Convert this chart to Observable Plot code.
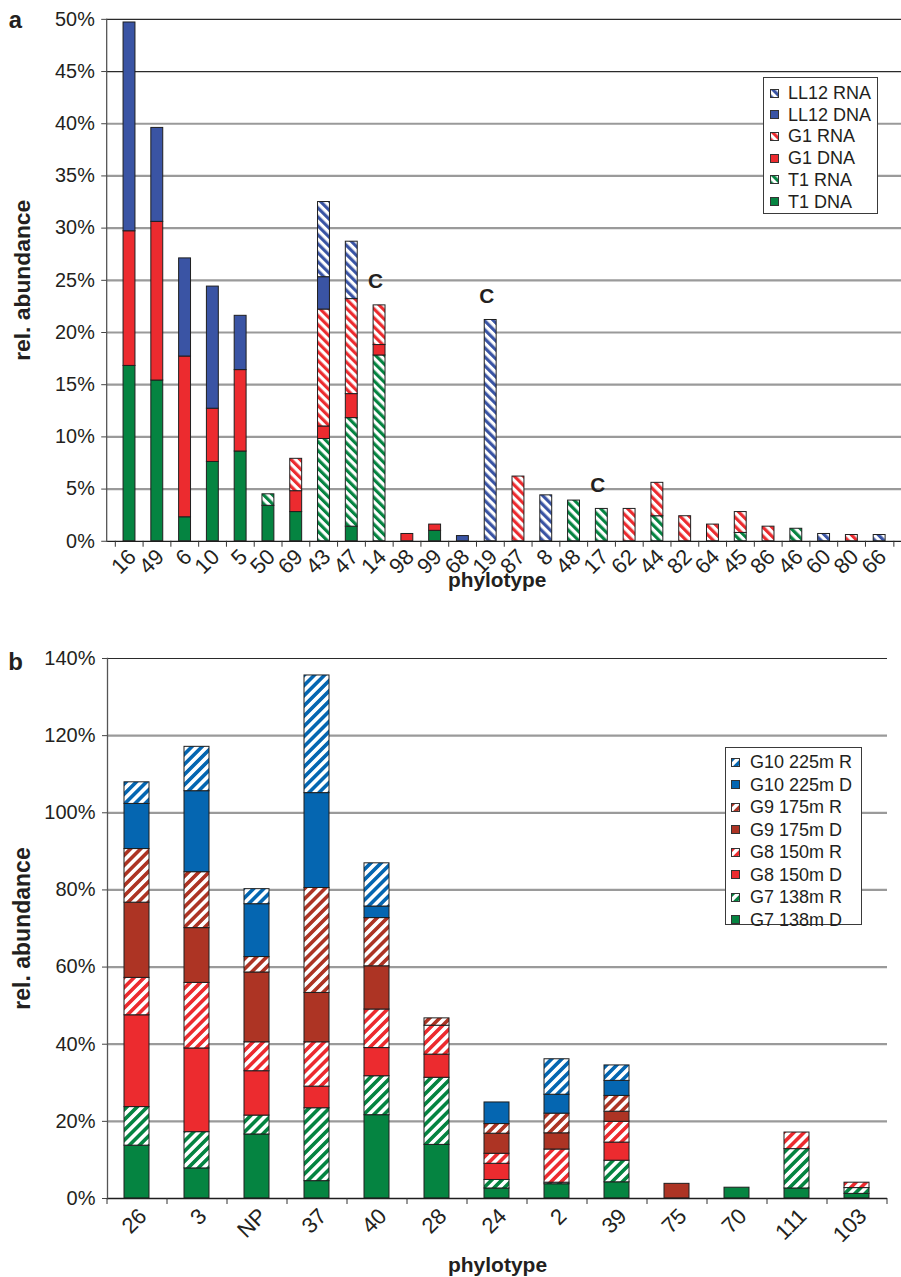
<!DOCTYPE html>
<html>
<head>
<meta charset="utf-8">
<script src="https://cdn.jsdelivr.net/npm/d3@7"></script>
<script src="https://cdn.jsdelivr.net/npm/@observablehq/plot@0.6"></script>
<style>
  body { margin: 0; background: #fff; width: 901px; height: 1277px; overflow: hidden; position: relative;
         font-family: "Liberation Sans", Arial, Helvetica, sans-serif; color: #231f20; }
  #panelA { position: absolute; left: 0; top: 0; width: 901px; height: 600px; overflow: hidden; }
  #panelB { position: absolute; left: 0; top: 600px; width: 901px; height: 677px; overflow: hidden; }
  .legend { position: absolute; background: #fff; border: 1px solid #3a3a3a; box-sizing: border-box; font-size: 18px; }
  .legend .row { position: absolute; display: flex; align-items: center; white-space: nowrap; line-height: 1; }
  .legend .row svg { display: block; }
</style>
</head>
<body>
<svg width="0" height="0" style="position:absolute">
  <defs id="patterns"></defs>
</svg>
<div id="panelA"></div>
<div id="panelB"></div>
<script>
// ---------- panel a: phylotypes across three stations ----------
const phylotypesA = ["16","49","6","10","5","50","69","43","47","14","98","99","68","19","87","8","48","17","62","44","82","64","45","86","46","60","80","66"];
const seriesA = ["T1 DNA", "T1 RNA", "G1 DNA", "G1 RNA", "LL12 DNA", "LL12 RNA"];
const t1DnaA   = [16.8,15.4,2.3,7.6,8.6,3.4,2.8,0,1.4,0,0,1.0,0,0,0,0,0,0,0,0,0,0,0,0,0,0,0,0];
const t1RnaA   = [0,0,0,0,0,1.1,0,9.8,10.4,17.8,0,0,0,0,0,0,3.9,3.1,0,2.4,0,0,0.8,0,1.2,0,0,0];
const g1DnaA   = [12.9,15.2,15.4,5.1,7.8,0,2.0,1.2,2.3,1.0,0.7,0.6,0,0,0,0,0,0,0,0,0,0,0,0,0,0,0,0];
const g1RnaA   = [0,0,0,0,0,0,3.1,11.2,9.1,3.8,0,0,0,0,6.2,0,0,0,3.1,3.2,2.4,1.6,2.0,1.4,0,0,0.6,0];
const ll12DnaA = [20.0,9.0,9.4,11.7,5.2,0,0,3.1,0,0,0,0,0.5,0,0,0,0,0,0,0,0,0,0,0,0,0,0,0];
const ll12RnaA = [0,0,0,0,0,0,0,7.2,5.5,0,0,0,0,21.2,0,4.4,0,0,0,0,0,0,0,0,0,0.7,0,0.6];
const valuesA = [t1DnaA, t1RnaA, g1DnaA, g1RnaA, ll12DnaA, ll12RnaA];
const flaggedA = ["14", "19", "17"];           // phylotypes marked "C"
const yTicksA = [0, 5, 10, 15, 20, 25, 30, 35, 40, 45, 50];

// ---------- panel b: phylotypes across four depths ----------
const phylotypesB = ["26","3","NP","37","40","28","24","2","39","75","70","111","103"];
const seriesB = ["G7 138m D", "G7 138m R", "G8 150m D", "G8 150m R", "G9 175m D", "G9 175m R", "G10 225m D", "G10 225m R"];
const g7DB  = [13.7, 7.8,16.6, 4.5,21.6,13.9,2.6,3.7,4.2,0,  2.8,2.6,1.2];
const g7RB  = [10.0, 9.4, 4.9,18.9,10.1,17.4,2.2,0.4,5.6,0,  0,  10.2,1.5];
const g8DB  = [23.8,21.7,11.5, 5.6, 7.3, 6.0,4.2,0,  4.7,0,  0,  0,  0];
const g8RB  = [ 9.7,17.0, 7.5,11.5,10.0, 7.5,2.6,8.6,5.4,0,  0,  4.3,1.4];
const g9DB  = [19.5,14.2,18.1,12.8,11.2, 0,  5.2,4.2,2.6,3.8,0,  0,  0];
const g9RB  = [13.9,14.5, 4.0,27.2,12.5, 1.9,2.5,5.1,4.1,0,  0,  0,  0];
const g10DB = [11.7,21.0,13.7,24.6, 3.0, 0,  5.6,4.9,3.9,0,  0,  0,  0];
const g10RB = [ 5.6,11.5, 3.9,30.5,11.2, 0,  0,  9.2,4.0,0,  0,  0,  0];
const valuesB = [g7DB, g7RB, g8DB, g8RB, g9DB, g9RB, g10DB, g10RB];
const yTicksB = [0, 20, 40, 60, 80, 100, 120, 140];

// ---------- hatch patterns ----------
const defs = d3.select("#patterns");
function hatch(id, color, angle, period) {
  const p = defs.append("pattern")
    .attr("id", id)
    .attr("patternUnits", "userSpaceOnUse")
    .attr("width", period).attr("height", period)
    .attr("patternTransform", `rotate(${angle})`);
  p.append("rect").attr("width", period).attr("height", period).attr("fill", "#fff");
  p.append("rect").attr("width", period * 0.5).attr("height", period).attr("fill", color);
}
const GREEN = "#058441", RED = "#ec2b2f", BLUE_A = "#3a54a4", BLUE_B = "#0566b1", BROWN = "#ad3424";
hatch("hA-green", GREEN, -45, 6.4);
hatch("hA-red", RED, -45, 6.4);
hatch("hA-blue", BLUE_A, -45, 6.4);
hatch("hB-green", GREEN, 45, 7.2);
hatch("hB-red", RED, 45, 7.2);
hatch("hB-brown", BROWN, 45, 7.2);
hatch("hB-blue", BLUE_B, 45, 7.2);

const fillsA = [GREEN, "url(#hA-green)", RED, "url(#hA-red)", BLUE_A, "url(#hA-blue)"];
const fillsB = [GREEN, "url(#hB-green)", RED, "url(#hB-red)", BROWN, "url(#hB-brown)", BLUE_B, "url(#hB-blue)"];

function rows(phylotypes, series, values) {
  const out = [];
  series.forEach((s, i) => phylotypes.forEach((p, j) => {
    if (values[i][j] > 0) out.push({phylotype: p, series: s, value: values[i][j]});
  }));
  return out;
}

const FONT = `"Liberation Sans", Arial, Helvetica, sans-serif`;

function panel({phylotypes, series, values, fills, yTicks, darkTicks, width, height,
                marginTop, marginBottom, marginRight, tag, tagDy, titleDx, titleDy,
                labelDx, labelPad, flagged}) {
  const data = rows(phylotypes, series, values);
  const step = (width - 107 - marginRight) / phylotypes.length;
  const yMax = yTicks[yTicks.length - 1];
  const totals = d3.rollup(data, v => d3.sum(v, d => d.value), d => d.phylotype);
  const gray = yTicks.filter(t => t > 0 && !darkTicks.includes(t));
  return Plot.plot({
    width, height, marginTop, marginBottom, marginLeft: 107, marginRight,
    style: {fontFamily: FONT, fontSize: "20px", color: "#231f20", background: "transparent"},
    x: {domain: phylotypes, paddingInner: 0.58, paddingOuter: 0.29},
    y: {domain: [0, yMax]},
    color: {domain: series, range: fills},
    marks: [
      Plot.ruleY(gray, {stroke: "#9a9a9a", strokeWidth: 2.2}),
      Plot.ruleY(darkTicks, {stroke: "#2a2a2a", strokeWidth: 1.2}),
      Plot.barY(data, {x: "phylotype", y: "value", fill: "series", order: series,
                       stroke: "#1e1e1e", strokeWidth: 1}),
      Plot.ruleY([0], {stroke: "#1e1e1e", strokeWidth: 1.3}),
      Plot.frame({anchor: "left", stroke: "#555", strokeWidth: 1.3}),
      Plot.axisY({ticks: yTicks, tickFormat: d => d + "%", tickSize: 5, tickPadding: 7,
                  stroke: "#444", label: null, fontSize: 20}),
      Plot.axisX({tickSize: 6, text: null, dx: -step / 2, stroke: "#333", label: null}),
      Plot.axisX([phylotypes[phylotypes.length - 1]], {tickSize: 6, text: null, dx: step / 2, stroke: "#333", label: null}),
      Plot.axisX({tickSize: 0, tickPadding: labelPad, tickRotate: -45, dx: labelDx, label: null, fontSize: 22}),
      Plot.text(flagged, {x: d => d, y: d => totals.get(d), text: () => "C", dy: -24, dx: -4,
                          fontWeight: "bold", fontSize: 21}),
      Plot.text(["rel. abundance"], {frameAnchor: "left", dx: -85, rotate: -90, textAnchor: "middle",
                                     lineAnchor: "middle", fontWeight: "bold", fontSize: 23}),
      Plot.text(["phylotype"], {frameAnchor: "bottom", dx: titleDx, dy: titleDy, textAnchor: "middle",
                                lineAnchor: "middle", fontWeight: "bold", fontSize: 21}),
      Plot.text([tag], {frameAnchor: "top-left", dx: -92, dy: tagDy, textAnchor: "middle",
                        lineAnchor: "middle", fontWeight: "bold", fontSize: 24})
    ]
  });
}

document.getElementById("panelA").append(panel({
  phylotypes: phylotypesA, series: seriesA, values: valuesA, fills: fillsA,
  yTicks: yTicksA, darkTicks: [45, 50], width: 908, height: 600,
  marginTop: 19, marginBottom: 55, marginRight: 0, tag: "a", tagDy: 1,
  titleDx: -7, titleDy: 39, labelDx: 3, labelPad: 12, flagged: flaggedA
}));

document.getElementById("panelB").append(panel({
  phylotypes: phylotypesB, series: seriesB, values: valuesB, fills: fillsB,
  yTicks: yTicksB, darkTicks: [140], width: 901, height: 677,
  marginTop: 58, marginBottom: 79, marginRight: 14, tag: "b", tagDy: 4,
  titleDx: 0, titleDy: 67, labelDx: 6, labelPad: 14, flagged: []
}));

// ---------- legends ----------
function legend({left, top, width, height, series, fills, rowTop, rowStep, swatchX, textX}) {
  const box = d3.select("body").append("div").attr("class", "legend")
    .style("left", left + "px").style("top", top + "px")
    .style("width", width + "px").style("height", height + "px");
  const order = series.map((s, i) => i).reverse();
  order.forEach((i, k) => {
    const row = box.append("div").attr("class", "row")
      .style("left", swatchX + "px").style("top", (rowTop + k * rowStep - 10) + "px").style("height", "20px");
    const sw = row.append("svg").attr("width", 9).attr("height", 9);
    sw.append("rect").attr("x", 0.5).attr("y", 0.5).attr("width", 8).attr("height", 8)
      .attr("fill", fills[i]).attr("stroke", "#333").attr("stroke-width", 1);
    row.append("span").style("margin-left", (textX - swatchX - 9) + "px").text(series[i]);
  });
}

legend({left: 763, top: 77, width: 115, height: 137, series: seriesA, fills: fillsA,
        rowTop: 15, rowStep: 21.7, swatchX: 6, textX: 24});
legend({left: 725, top: 747, width: 137, height: 178, series: seriesB, fills: fillsB,
        rowTop: 14, rowStep: 22.5, swatchX: 5, textX: 24});
</script>
</body>
</html>
